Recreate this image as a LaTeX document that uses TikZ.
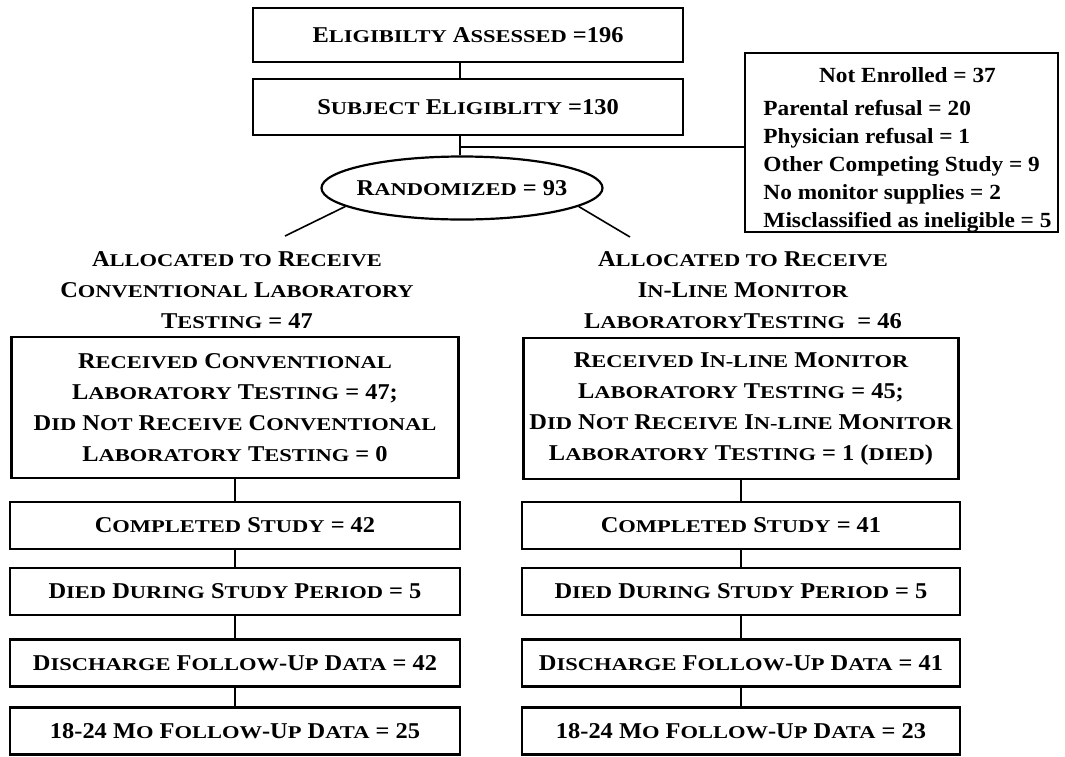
\documentclass[tikz,border=0pt]{standalone}
\usepackage{fontspec}
\setmainfont{Liberation Serif}[FakeStretch=1.08]
\newfontfamily\smcfont{Liberation Serif}[FakeStretch=1.25]
\usetikzlibrary{shapes.geometric, positioning}
\newcommand{\sm}[1]{{\smcfont\fontsize{9}{10}\selectfont\MakeUppercase{#1}}}

\begin{document}
\begin{tikzpicture}[x=0.5pt, y=-0.5pt,
    box/.style={rectangle, draw, line width=1.1pt, align=center, inner sep=0pt, font=\bfseries\fontsize{11.3}{15.5}\selectfont},
    leftbox/.style={box, minimum width=225pt, minimum height=23.5pt},
    rightbox/.style={box, minimum width=219pt, minimum height=23.5pt},
    alloc/.style={align=center, inner sep=0pt, font=\bfseries\fontsize{11.3}{15.5}\selectfont},
    link/.style={line width=0.8pt}
]
\useasboundingbox (0,0) rectangle (1065,756);

\node[box, minimum width=215pt, minimum height=27pt] (assessed) at (468,35) {E\sm{ligibilty} A\sm{ssessed} =196};
\node[box, minimum width=215pt, minimum height=28pt] (eligible) at (468,107) {S\sm{ubject} E\sm{ligiblity} =130};
\node[ellipse, draw, line width=1.1pt, inner xsep=-3pt, inner ysep=0pt, minimum width=140.5pt, minimum height=31.5pt, font=\bfseries\fontsize{11.3}{15.5}\selectfont] (rand) at (462,188) {R\sm{andomized} = 93};
\node[draw, line width=1.1pt, minimum width=156.5pt, minimum height=89.5pt, inner sep=0pt, font=\bfseries\fontsize{10.8}{14}\selectfont] (notenr) at (901.5,142.5) {%
  \hspace*{6pt}\raisebox{-3.5pt}[\height][\depth]{\begin{tabular}{@{}l@{}}
  \multicolumn{1}{@{}c@{}}{Not Enrolled = 37}\\[2.5pt]
  Parental refusal = 20\\
  Physician refusal = 1\\
  Other Competing Study = 9\\
  No monitor supplies = 2\\
  Misclassified as ineligible = 5
  \end{tabular}}};

\coordinate (split) at (460,147);
\coordinate (lend) at (285,236);
\coordinate (rend) at (630,237);

\node[alloc] (alloccon) at (237,290) {A\sm{llocated to} R\sm{eceive}\\ C\sm{onventional} L\sm{aboratory}\\ T\sm{esting} = 47};
\node[alloc] (allocmon) at (743,290) {A\sm{llocated to} R\sm{eceive}\\ I\sm{n}-L\sm{ine} M\sm{onitor}\\ L\sm{aboratory}T\sm{esting}\ \ = 46};

\node[box, minimum width=223.5pt, minimum height=70.5pt] (recvcon) at (235,407.5) {R\sm{eceived} C\sm{onventional}\\ L\sm{aboratory} T\sm{esting} = 47;\\ D\sm{id} N\sm{ot} R\sm{eceive} C\sm{onventional}\\ L\sm{aboratory} T\sm{esting} = 0};
\node[leftbox] (donecon) at (235,525.5) {C\sm{ompleted} S\sm{tudy} = 42};
\node[leftbox] (diedcon) at (235,591.5) {D\sm{ied} D\sm{uring} S\sm{tudy} P\sm{eriod} = 5};
\node[leftbox] (dischcon) at (235,663) {D\sm{ischarge} F\sm{ollow}-U\sm{p} D\sm{ata} = 42};
\node[leftbox] (fupcon) at (235,731) {18-24 M\sm{o} F\sm{ollow}-U\sm{p} D\sm{ata} = 25};

\node[box, minimum width=217.5pt, minimum height=70.5pt] (recvmon) at (741,408.5) {R\sm{eceived} I\sm{n-line} M\sm{onitor}\\ L\sm{aboratory} T\sm{esting} = 45;\\ D\sm{id} N\sm{ot} R\sm{eceive} I\sm{n-line} M\sm{onitor}\\ L\sm{aboratory} T\sm{esting} = 1 (\sm{died})};
\node[rightbox] (donemon) at (741,525.5) {C\sm{ompleted} S\sm{tudy} = 41};
\node[rightbox] (diedmon) at (741,591.5) {D\sm{ied} D\sm{uring} S\sm{tudy} P\sm{eriod} = 5};
\node[rightbox] (dischmon) at (741,663) {D\sm{ischarge} F\sm{ollow}-U\sm{p} D\sm{ata} = 41};
\node[rightbox] (fupmon) at (741,731) {18-24 M\sm{o} F\sm{ollow}-U\sm{p} D\sm{ata} = 23};

\draw[link] (assessed.south -| split) -- (eligible.north -| split);
\draw[link] (eligible.south -| split) -- (split) -- (split |- rand.north);
\draw[link] (split) -- (split -| notenr.west);
\draw[link] (rand.189) -- (lend);
\draw[link] (rand.351) -- (rend);
\foreach \a/\b in {recvcon/donecon, donecon/diedcon, diedcon/dischcon, dischcon/fupcon,
                   recvmon/donemon, donemon/diedmon, diedmon/dischmon, dischmon/fupmon}
  \draw[link] (\a) -- (\b);
\end{tikzpicture}
\end{document}
